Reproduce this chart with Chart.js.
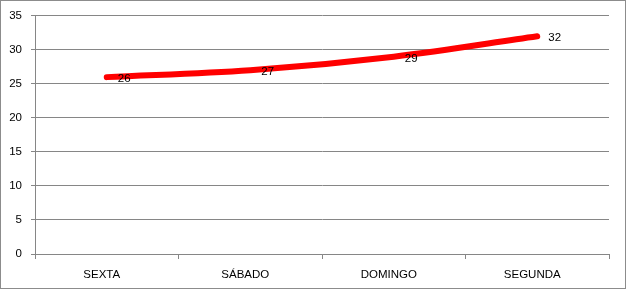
<!DOCTYPE html>
<html>
<head>
<meta charset="utf-8">
<script src="https://cdn.jsdelivr.net/npm/chart.js@4/dist/chart.umd.min.js"></script>
<style>
    body { margin: 0; background: #fff; }
    #box { width: 626px; height: 289px; }
</style>
</head>
<body>
<div id="box"><canvas id="chart" width="626" height="289"></canvas></div>
<script>
'use strict';

var days = ['SEXTA', 'SÁBADO', 'DOMINGO', 'SEGUNDA'];
var values = [26, 27, 29, 32];
var yTicks = [0, 5, 10, 15, 20, 25, 30, 35];

var gridColor = '#868686';
var fontFamily = '"Liberation Sans", Arial, sans-serif';

// grey frame round the whole chart
var frame = {
    id: 'frame',
    afterDraw: function (chart) {
        var ctx = chart.ctx;
        ctx.save();
        ctx.strokeStyle = '#8c8c8c';
        ctx.lineWidth = 1;
        ctx.strokeRect(0.5, 0.5, chart.width - 1, chart.height - 1);
        ctx.restore();
    }
};

// value labels to the right of each point
var valueLabels = {
    id: 'valueLabels',
    afterDatasetsDraw: function (chart) {
        var ctx = chart.ctx;
        var meta = chart.getDatasetMeta(0);
        ctx.save();
        ctx.fillStyle = '#000';
        ctx.font = '11.5px ' + fontFamily;
        ctx.textAlign = 'left';
        ctx.textBaseline = 'middle';
        meta.data.forEach(function (pt, i) {
            ctx.fillText(String(values[i]), pt.x + 11, pt.y + 2);
        });
        ctx.restore();
    }
};

var ctx = document.getElementById('chart').getContext('2d');

new Chart(ctx, {
    type: 'line',
    data: {
        labels: days,
        datasets: [{
            data: values,
            borderColor: '#ff0000',
            borderWidth: 6,
            borderCapStyle: 'round',
            borderJoinStyle: 'round',
            tension: 0.35,
            pointRadius: 0,
            fill: false
        }]
    },
    options: {
        responsive: false,
        animation: false,
        layout: { padding: { top: 14, right: 17, left: 0, bottom: 0 } },
        plugins: {
            legend: { display: false },
            tooltip: { enabled: false }
        },
        scales: {
            x: {
                offset: true,
                grid: {
                    offset: true,
                    drawOnChartArea: false,
                    drawTicks: true,
                    tickLength: 5,
                    color: gridColor
                },
                border: { color: gridColor },
                ticks: {
                    color: '#000',
                    padding: 9,
                    maxRotation: 0,
                    labelOffset: -5,
                    font: { family: fontFamily, size: 11.5 }
                },
                afterFit: function (scale) { scale.height = 35; }
            },
            y: {
                min: 0,
                max: 35,
                afterBuildTicks: function (scale) {
                    scale.ticks = yTicks.map(function (v) { return { value: v }; });
                },
                grid: {
                    color: gridColor,
                    tickLength: 4
                },
                border: { color: gridColor },
                ticks: {
                    color: '#000',
                    padding: 9,
                    font: { family: fontFamily, size: 11.5 }
                },
                afterFit: function (scale) { scale.width = 35; }
            }
        }
    },
    plugins: [frame, valueLabels]
});
</script>
</body>
</html>
